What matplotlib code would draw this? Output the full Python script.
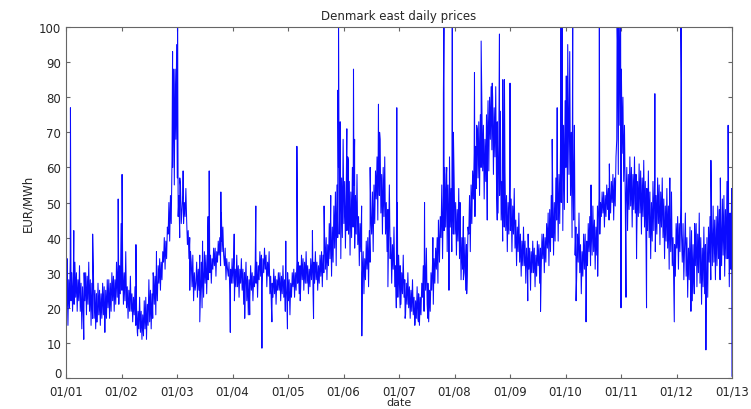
import numpy as np
import matplotlib.pyplot as plt

# daily price band, 6 readings per month (EUR/MWh)
p2001 = [18, 27, 15, 28, 20, 34, 22, 30, 19, 29, 21, 33, 23, 30, 19, 28, 22, 32, 19, 27, 14, 26, 18, 30,
         22, 30, 18, 29, 21, 33, 19, 28, 15, 27, 17, 31, 17, 25, 14, 24, 16, 27, 18, 25, 15, 24, 17, 27,
         18, 26, 15, 25, 17, 28, 20, 28, 17, 27, 19, 30, 22, 29, 19, 28, 21, 33, 23, 34, 21, 32, 24, 44]
p2002 = [25, 32, 21, 30, 22, 36, 20, 26, 17, 25, 19, 29, 19, 24, 16, 23, 18, 26, 15, 20, 13, 19, 14, 23,
         13, 19, 11, 18, 12, 22, 14, 23, 12, 21, 15, 28, 16, 25, 14, 24, 17, 29, 21, 29, 18, 28, 22, 32,
         27, 34, 25, 33, 28, 36, 33, 40, 31, 39, 34, 43, 41, 50, 39, 52, 44, 62, 60, 82, 55, 88, 68, 95]
p2003 = [57, 46, 52, 40, 55, 44, 48, 52, 44, 50, 46, 54, 45, 38, 42, 34, 40, 36, 33, 26, 35, 22, 30, 25,
         27, 33, 23, 31, 25, 35, 24, 33, 20, 31, 23, 36, 27, 35, 24, 34, 28, 39, 30, 35, 27, 34, 31, 37,
         32, 37, 29, 36, 33, 39, 35, 40, 32, 39, 36, 43, 35, 32, 37, 28, 34, 31, 29, 33, 24, 31, 27, 34]
p2004 = [27, 33, 22, 31, 26, 35, 26, 32, 23, 31, 27, 34, 25, 31, 21, 30, 26, 33, 22, 29, 18, 28, 23, 32,
         25, 30, 22, 29, 26, 33, 27, 33, 23, 32, 28, 36, 29, 35, 26, 34, 30, 37, 31, 35, 26, 33, 29, 36,
         24, 29, 20, 27, 23, 31, 24, 29, 21, 28, 25, 30, 25, 30, 22, 29, 24, 32, 23, 28, 19, 27, 22, 30]
p2005 = [22, 28, 18, 27, 23, 30, 26, 31, 23, 30, 25, 33, 27, 33, 24, 32, 26, 35, 28, 34, 25, 33, 27, 36,
         27, 32, 24, 31, 26, 34, 28, 34, 24, 33, 27, 36, 28, 33, 25, 32, 27, 35, 29, 36, 26, 35, 30, 40,
         31, 40, 28, 38, 32, 44, 34, 45, 29, 43, 33, 49, 37, 53, 32, 55, 40, 60, 41, 60, 34, 57, 40, 68]
p2006 = [44, 56, 37, 53, 42, 63, 41, 56, 35, 53, 40, 60, 43, 55, 37, 52, 41, 58, 38, 46, 32, 44, 36, 49,
         30, 36, 24, 34, 28, 39, 31, 40, 26, 42, 33, 46, 41, 53, 36, 55, 44, 59, 51, 63, 45, 65, 52, 68,
         47, 58, 41, 60, 46, 63, 41, 50, 36, 48, 40, 55, 34, 40, 27, 38, 31, 43, 26, 32, 20, 30, 23, 35]
p2007 = [27, 32, 21, 30, 24, 35, 23, 28, 18, 27, 21, 30, 20, 26, 17, 25, 19, 28, 18, 23, 15, 22, 17, 26,
         17, 24, 15, 23, 18, 27, 23, 32, 19, 33, 25, 37, 21, 27, 16, 25, 19, 30, 25, 33, 21, 34, 27, 37,
         31, 40, 27, 42, 33, 46, 40, 55, 34, 52, 42, 60, 43, 58, 36, 55, 41, 63, 43, 54, 36, 52, 41, 57]
p2008 = [41, 50, 35, 48, 39, 54, 34, 43, 28, 40, 31, 46, 30, 40, 25, 38, 29, 43, 41, 52, 36, 55, 44, 59,
         51, 64, 46, 66, 54, 71, 57, 73, 52, 75, 60, 79, 59, 72, 51, 68, 56, 75, 65, 79, 59, 80, 68, 83,
         65, 80, 58, 77, 63, 83, 55, 73, 47, 68, 52, 76, 45, 56, 39, 54, 43, 59, 42, 52, 36, 50, 41, 55]
p2009 = [42, 51, 36, 49, 41, 54, 37, 45, 32, 43, 36, 47, 33, 41, 29, 39, 32, 43, 32, 39, 27, 37, 31, 41,
         31, 37, 27, 36, 30, 39, 30, 37, 26, 35, 29, 39, 32, 38, 27, 37, 31, 41, 34, 41, 30, 40, 33, 44,
         37, 47, 32, 48, 36, 52, 40, 52, 35, 50, 39, 57, 45, 60, 39, 58, 44, 65, 50, 70, 42, 72, 48, 79]
p2010 = [60, 86, 50, 80, 58, 93, 52, 70, 40, 62, 45, 72, 35, 43, 29, 41, 33, 47, 30, 38, 24, 36, 29, 41,
         31, 41, 27, 39, 32, 44, 36, 46, 32, 44, 35, 49, 36, 45, 31, 43, 35, 49, 45, 51, 41, 50, 46, 53,
         47, 53, 43, 52, 46, 55, 48, 54, 45, 53, 47, 56, 50, 58, 45, 57, 49, 63, 68, 96, 58, 100, 72, 104]
p2011 = [88, 64, 80, 56, 72, 52, 49, 60, 42, 58, 48, 63, 49, 60, 43, 58, 48, 63, 47, 58, 41, 56, 46, 61,
         47, 59, 41, 57, 46, 62, 43, 56, 37, 54, 42, 59, 40, 53, 34, 50, 39, 56, 42, 55, 36, 52, 41, 57,
         44, 55, 38, 53, 43, 57, 40, 51, 34, 49, 39, 54, 37, 49, 31, 46, 36, 53, 32, 40, 24, 38, 29, 44]
p2012 = [37, 46, 31, 44, 36, 49, 41, 33, 44, 28, 38, 47, 29, 40, 23, 37, 28, 43, 28, 42, 22, 38, 27, 44,
         32, 44, 26, 41, 30, 47, 27, 40, 21, 37, 26, 43, 24, 38, 18, 40, 23, 43, 33, 46, 28, 43, 32, 49,
         33, 45, 28, 46, 32, 49, 34, 48, 28, 45, 32, 51, 35, 52, 29, 48, 34, 56, 34, 50, 26, 47, 31, 54]

# single-day spikes (time in years, price)
spike_t = [2001.00, 2001.02, 2001.08, 2001.14, 2001.32, 2001.48, 2001.55, 2001.70, 2001.94,
           2002.01, 2002.26, 2002.29, 2002.45, 2002.57, 2002.63, 2002.92, 2002.94,
           2003.01, 2003.05, 2003.11, 2003.23, 2003.41, 2003.46, 2003.56, 2003.58, 2003.79, 2003.80, 2003.96,
           2004.03, 2004.22, 2004.31, 2004.42, 2004.53, 2004.71, 2004.96, 2004.99,
           2005.16, 2005.22, 2005.44, 2005.46, 2005.65, 2005.77, 2005.90, 2005.91, 2005.94,
           2006.06, 2006.09, 2006.18, 2006.20, 2006.33, 2006.48, 2006.63, 2006.65, 2006.80, 2006.96, 2006.97,
           2007.02, 2007.11, 2007.29, 2007.35, 2007.46, 2007.52, 2007.61, 2007.71, 2007.80, 2007.81, 2007.86,
           2007.90, 2007.96, 2007.98,
           2008.10, 2008.16, 2008.22, 2008.36, 2008.40, 2008.48, 2008.59, 2008.68, 2008.77, 2008.81, 2008.87, 2008.90,
           2009.00, 2009.32, 2009.37, 2009.55, 2009.76, 2009.85, 2009.92, 2009.94,
           2010.01, 2010.04, 2010.13, 2010.15, 2010.19, 2010.37, 2010.46, 2010.58, 2010.61, 2010.79, 2010.93, 2010.96,
           2011.00, 2011.09, 2011.28, 2011.46, 2011.61, 2011.66, 2011.88, 2011.96,
           2012.08, 2012.09, 2012.26, 2012.32, 2012.53, 2012.62, 2012.79, 2012.93, 2012.97,
           2013.00]
spike_v = [16, 34, 77, 42, 11, 41, 16, 13, 51,
           58, 38, 12, 11, 30, 36, 93, 88,
           104, 57, 59, 25, 16, 39, 46, 59, 53, 47, 13,
           41, 17, 18, 49, 8.5, 16, 39, 14,
           66, 22, 42, 17, 49, 52, 82, 104, 73,
           71, 62, 88, 68, 12, 60, 78, 70, 26, 77, 50,
           20, 17, 16, 16, 50, 17, 40, 45, 81, 104, 60,
           25, 104, 70,
           50, 28, 24, 87, 72, 96, 45, 84, 45, 98, 85, 85,
           84, 22, 25, 19, 68, 77, 104, 104,
           86, 95, 104, 60, 22, 16, 55, 29, 104, 61, 104, 104,
           20, 23, 34, 20, 81, 57, 57, 16,
           104, 85, 19, 24, 8, 62, 57, 72, 40,
           0.5]

tick_years = list(range(2001, 2014))
tick_labels = ["01/%02d" % (y % 100) for y in tick_years]
y_ticks = list(range(0, 101, 10))

base = p2001 + p2002 + p2003 + p2004 + p2005 + p2006 + p2007 + p2008 + p2009 + p2010 + p2011 + p2012
t_base = 2001 + (np.arange(len(base)) + 0.5) / 72.0

t = np.concatenate([t_base, spike_t])
v = np.concatenate([base, spike_v])
order = np.argsort(t, kind="stable")
t, v = t[order], v[order]

fig = plt.figure(figsize=(7.51, 4.10), dpi=100)
ax = fig.add_axes([0.0879, 0.0756, 0.8868, 0.8561])

ax.plot(t, v, color="#0a0aff", linewidth=0.75)

ax.set_xlim(2001, 2013)
ax.set_ylim(0, 100)
ax.set_xticks(tick_years)
ax.set_xticklabels(tick_labels)
ax.set_yticks(y_ticks)
# the "0" sits a little above the corner, as in the original
ax.set_yticklabels([""] + [str(y) for y in y_ticks[1:]])

for s in ax.spines.values():
    s.set_color("0.4")
ax.tick_params(direction="in", top=True, right=True, length=3, color="0.4",
               labelsize=8.5, labelcolor="0.15")
ax.tick_params(axis="x", pad=4.5)
ax.annotate("0", xy=(0, 0), xycoords="axes fraction", xytext=(-3.5, 3),
            textcoords="offset points", ha="right", va="center",
            fontsize=8.5, color="0.15")

ax.set_title("Denmark east daily prices", fontsize=8.5, color="0.15", pad=6)
ax.set_xlabel("date", fontsize=8, color="0.15", labelpad=0)
ax.set_ylabel("EUR/MWh", fontsize=8.5, color="0.15", labelpad=3)

fig.savefig("out.png", dpi=100)
